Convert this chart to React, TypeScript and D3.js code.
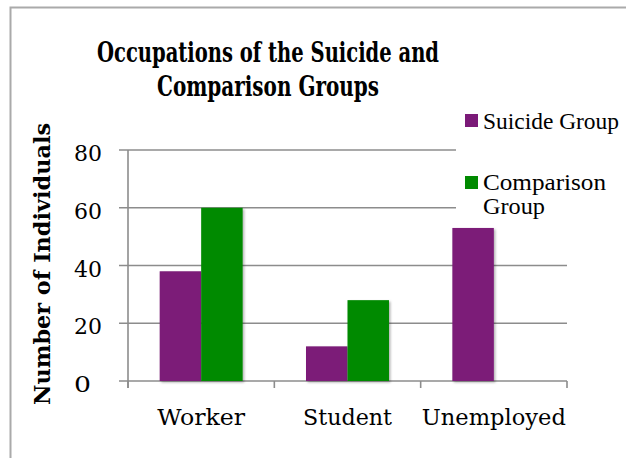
import React from "react";
import * as d3 from "d3";

const categories = ["Worker", "Student", "Unemployed"];
const seriesNames = ["Suicide Group", "Comparison Group"];
const suicideValues = [38, 12, 53];
const comparisonValues = [60, 28, 0];
const yTicks = [0, 20, 40, 60, 80];

const W = 626;
const H = 458;
const colors = ["#7B1A78", "#008A00"];
const FONT = "'DejaVu Serif', 'Liberation Serif', serif";
const LEGEND_FONT = "'Liberation Serif', 'DejaVu Serif', serif";
const labelWidths: Record<string, number> = { Worker: 88, Student: 89, Unemployed: 144 };

export default function App() {
  const x = d3
    .scaleBand<string>()
    .domain(categories)
    .range([128, 567])
    .paddingInner(0.433)
    .paddingOuter(0.2165);
  const xs = d3.scaleBand<string>().domain(seriesNames).range([0, x.bandwidth()]);
  const y = d3.scaleLinear().domain([0, 80]).range([381, 150]);
  const series = [suicideValues, comparisonValues];
  const step = x.step();
  const boundaries = d3.range(categories.length + 1).map((i) => 128 + i * step);

  return (
    <svg
      width={W}
      height={H}
      style={{ position: "absolute", left: 0, top: 0, background: "#fff" }}
      fontFamily={FONT}
    >
      <defs>
        <filter id="sh" x="-20%" y="-20%" width="140%" height="140%">
          <feDropShadow dx="1.5" dy="1.5" stdDeviation="1.2" floodColor="#000" floodOpacity="0.3" />
        </filter>
      </defs>
      <rect x={0} y={0} width={W} height={H} fill="#fff" />
      {/* frame */}
      <path d={`M10.5,${H} V7.5 H${W}`} fill="none" stroke="#aaaaaa" strokeWidth={2} />

      {/* title */}
      <text x={268} y={62} textAnchor="middle" fontWeight="bold" fontSize={27} fill="#000" textLength={342} lengthAdjust="spacingAndGlyphs">
        Occupations of the Suicide and
      </text>
      <text x={268} y={96} textAnchor="middle" fontWeight="bold" fontSize={27} fill="#000" textLength={222} lengthAdjust="spacingAndGlyphs">
        Comparison Groups
      </text>

      {/* gridlines */}
      {yTicks.map((t) => (
        <line key={t} x1={119} x2={567} y1={y(t)} y2={y(t)} stroke="#8c8c8c" strokeWidth={1.6} />
      ))}
      {/* y axis */}
      <line x1={128} x2={128} y1={150} y2={388} stroke="#8c8c8c" strokeWidth={1.6} />
      {boundaries.map((b, i) => (
        <line key={i} x1={b} x2={b} y1={381} y2={388} stroke="#8c8c8c" strokeWidth={1.6} />
      ))}

      {/* bars */}
      {categories.map((c, ci) =>
        series.map((vals, si) =>
          vals[ci] > 0 ? (
            <rect
              key={c + si}
              x={(x(c) as number) + (xs(seriesNames[si]) as number)}
              y={y(vals[ci])}
              width={xs.bandwidth()}
              height={y(0) - y(vals[ci])}
              fill={colors[si]}
              filter="url(#sh)"
            />
          ) : null
        )
      )}

      {/* y tick labels */}
      {yTicks.map((t) => (
        <text
          key={t}
          x={74}
          y={y(t) + 11}
          fontSize={22}
          fill="#000"
          textLength={t === 0 ? 17 : 28}
          lengthAdjust="spacingAndGlyphs"
        >
          {t}
        </text>
      ))}

      {/* x labels */}
      {categories.map((c) => (
        <text
          key={c}
          x={(x(c) as number) + x.bandwidth() / 2}
          y={425}
          textAnchor="middle"
          fontSize={23}
          fill="#000"
          textLength={labelWidths[c]}
          lengthAdjust="spacingAndGlyphs"
        >
          {c}
        </text>
      ))}

      {/* y axis title */}
      <text
        transform="translate(50,264) rotate(-90)"
        textAnchor="middle"
        fontWeight="bold"
        fontSize={23}
        fill="#000"
        textLength={282}
        lengthAdjust="spacingAndGlyphs"
      >
        Number of Individuals
      </text>

      {/* legend */}
      <rect x={456} y={104} width={170} height={118} fill="#fff" />
      <g fontFamily={LEGEND_FONT}>
        <rect x={465} y={114} width={13} height={13} fill={colors[0]} />
        <text x={483} y={129} fontSize={24} fill="#000" textLength={136} lengthAdjust="spacingAndGlyphs">
          {seriesNames[0]}
        </text>
        <rect x={465} y={176} width={13} height={13} fill={colors[1]} />
        <text x={483} y={190} fontSize={24} fill="#000" textLength={123} lengthAdjust="spacingAndGlyphs">
          Comparison
        </text>
        <text x={483} y={214} fontSize={24} fill="#000" textLength={62} lengthAdjust="spacingAndGlyphs">
          Group
        </text>
      </g>
    </svg>
  );
}
